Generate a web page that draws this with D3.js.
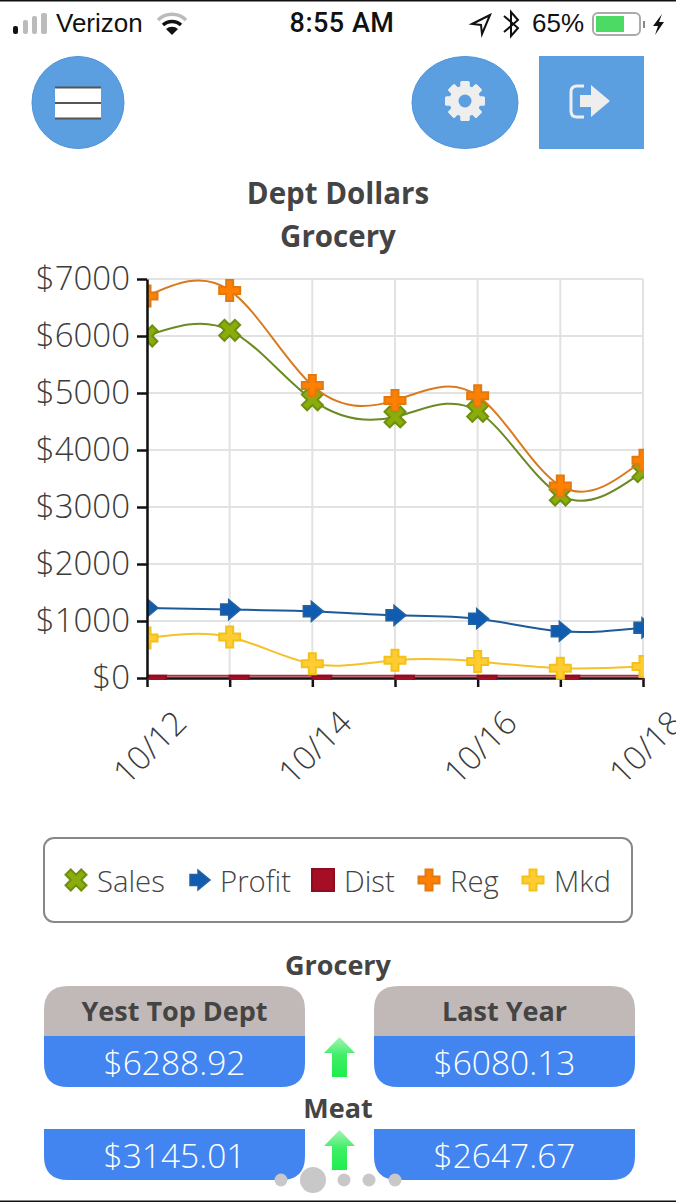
<!DOCTYPE html>
<html>
<head>
<meta charset="utf-8">
<script src="https://cdn.jsdelivr.net/npm/d3@7"></script>
<style>
  html, body { margin: 0; padding: 0; background: #fff; overflow: hidden; }
  svg { display: block; font-family: "Open Sans", sans-serif; }
  .status { font-family: "Liberation Sans", sans-serif; fill: #111; }
  .tick text { font-family: "Open Sans", sans-serif; font-weight: 300; font-size: 33px; fill: #3c3c3c; }
  .title { font-weight: 700; font-size: 27px; fill: #444; text-anchor: middle; }
  .chart-title { font-size: 29.5px; }
  .legend-label { font-weight: 300; font-size: 29.3px; fill: #444; }
  .value { font-weight: 300; font-size: 33.5px; fill: #fff; text-anchor: middle; }
</style>
</head>
<body>
<svg id="stage" width="676" height="1202"></svg>
<script>
var days = ['10/12', '10/13', '10/14', '10/15', '10/16', '10/17', '10/18'],
    labelledDays = ['10/12', '10/14', '10/16', '10/18'],
    yTicks = [0, 1000, 2000, 3000, 4000, 5000, 6000, 7000],
    sales = [6000, 6100, 4880, 4580, 4680, 3210, 3620],
    profit = [1230, 1200, 1170, 1100, 1040, 820, 880],
    dist = [40, 40, 40, 40, 40, 40, 40],
    reg = [6700, 6800, 5130, 4870, 4950, 3370, 3820],
    mkd = [700, 720, 250, 310, 290, 170, 200],
    seriesNames = ['Sales', 'Profit', 'Dist', 'Reg', 'Mkd'],
    seriesValues = [sales, profit, dist, reg, mkd],
    seriesLine = ['#6b8a23', '#1c5a9a', '#b03045', '#d97a20', '#f5c02a'],
    seriesFill = ['#8aad0b', '#0f5cb0', '#a50f25', '#ff8000', '#ffcc33'],
    seriesStroke = ['#6e8f10', '#25639f', '#8d0c20', '#e07a10', '#f2c21a'],
    legendX = [76, 199, 323, 429, 533],
    cardTitles = ['Yest Top Dept', 'Last Year'],
    groceryValues = ['$6288.92', '$6080.13'],
    meatValues = ['$3145.01', '$2647.67'],
    cardX = [44, 374],
    pageDots = [[281, 6.5], [313, 13], [344, 6.5], [369, 6.5], [395, 6.5]];

var svg = d3.select('#stage'),
    LEFT = 147,
    RIGHT = 643,
    TOP = 279,
    BOTTOM = 678,
    BLUE = '#5c9fe0';

var x = d3.scalePoint().domain(days).range([LEFT, RIGHT]),
    y = d3.scaleLinear().domain([0, 7000]).range([BOTTOM, TOP]);

// d3 has no arrow symbol so this one is custom
var arrowSymbol = {
  draw: function (ctx, size) {
    var k = Math.sqrt(size) / 20;
    ctx.moveTo(-9 * k, -5.5 * k);
    ctx.lineTo(-1 * k, -5.5 * k);
    ctx.lineTo(-1 * k, -10 * k);
    ctx.lineTo(11 * k, 0);
    ctx.lineTo(-1 * k, 10 * k);
    ctx.lineTo(-1 * k, 5.5 * k);
    ctx.lineTo(-9 * k, 5.5 * k);
    ctx.closePath();
  }
};

function drawMarker(sel, i) {
  if (i === 2) {
    return sel.append('rect').attr('width', 19).attr('height', 20);
  }
  var type = i === 1 ? arrowSymbol : d3.symbolCross,
      size = i === 1 ? 400 : i === 0 ? 275 : 245,
      path = d3.symbol().type(type).size(size)();
  var mark = sel.append('path').attr('d', path);
  if (i === 0) mark.attr('transform', 'rotate(45)');
  return mark;
}

/* ---------- status bar ---------- */
svg.append('rect').attr('width', 676).attr('height', 1.5).attr('fill', '#111');
svg.append('rect').attr('y', 1200.5).attr('width', 676).attr('height', 1.5).attr('fill', '#111');

var statusBar = svg.append('g').attr('class', 'status');
[[13, 5, 26, 34, '#111'], [23, 5, 20, 34, '#bbb'], [32, 5, 16, 34, '#bbb'], [41, 6, 13, 34, '#bbb']].forEach(function (b) {
  statusBar.append('rect').attr('x', b[0]).attr('y', b[2]).attr('width', b[1]).attr('height', b[3] - b[2]).attr('rx', 2).attr('fill', b[4]);
});
statusBar.append('text').attr('x', 56).attr('y', 32).attr('font-size', 26).text('Verizon');
statusBar.append('path').attr('d', 'M158 20 A20 20 0 0 1 186 20').attr('fill', 'none').attr('stroke', '#bbb').attr('stroke-width', 3.5);
statusBar.append('path').attr('d', 'M163 25 A13 13 0 0 1 181 25').attr('fill', 'none').attr('stroke', '#111').attr('stroke-width', 3.5);
statusBar.append('path').attr('d', 'M172 35 L166 29 A9 9 0 0 1 178 29 Z').attr('fill', '#111');
statusBar.append('text').attr('x', 342).attr('y', 32).attr('font-size', 27).attr('font-family', 'Roboto').attr('font-weight', 500).attr('letter-spacing', 0.5).attr('text-anchor', 'middle').text('8:55 AM');
statusBar.append('path').attr('d', 'M490 15 L472 24 L481 25 L482 34 Z').attr('fill', 'none').attr('stroke', '#111').attr('stroke-width', 2);
statusBar.append('path').attr('d', 'M504 16 L518 28 L511 36 L511 12 L518 20 L504 32').attr('fill', 'none').attr('stroke', '#111').attr('stroke-width', 2);
statusBar.append('text').attr('x', 532).attr('y', 32).attr('font-size', 26).text('65%');
statusBar.append('rect').attr('x', 593).attr('y', 13).attr('width', 47).attr('height', 22).attr('rx', 5).attr('fill', '#fff').attr('stroke', '#aaa').attr('stroke-width', 2);
statusBar.append('rect').attr('x', 596).attr('y', 16).attr('width', 28).attr('height', 16).attr('fill', '#4cd964');
statusBar.append('rect').attr('x', 643).attr('y', 21).attr('width', 2).attr('height', 7).attr('fill', '#888');
statusBar.append('path').attr('d', 'M662 14 L653 26 L658 26 L655 35 L664 22 L659 22 Z').attr('fill', '#111');

/* ---------- top buttons ---------- */
svg.append('circle').attr('cx', 78).attr('cy', 102.5).attr('r', 46).attr('fill', BLUE).attr('stroke', '#4f94dc');
svg.append('rect').attr('x', 55).attr('y', 87).attr('width', 46).attr('height', 32).attr('fill', '#fff');
[87.5, 103, 118.5].forEach(function (ly) {
  svg.append('line').attr('x1', 55).attr('x2', 101).attr('y1', ly).attr('y2', ly).attr('stroke', '#555').attr('stroke-width', 2);
});

svg.append('ellipse').attr('cx', 465).attr('cy', 102.5).attr('rx', 53).attr('ry', 46).attr('fill', BLUE).attr('stroke', '#4f94dc');
var gear = svg.append('g').attr('transform', 'translate(465,101)');
d3.range(8).forEach(function (i) {
  gear.append('rect').attr('x', -4.5).attr('y', -20).attr('width', 9).attr('height', 40).attr('rx', 1.5)
    .attr('fill', '#eee').attr('transform', 'rotate(' + i * 45 + ')');
});
gear.append('circle').attr('r', 11).attr('fill', 'none').attr('stroke', '#eee').attr('stroke-width', 9);
gear.append('circle').attr('r', 6.5).attr('fill', BLUE);

svg.append('rect').attr('x', 539).attr('y', 56).attr('width', 105).attr('height', 93).attr('fill', BLUE);
svg.append('path').attr('d', 'M584 86 H577 Q571 86 571 92 V111 Q571 117 577 117 H584').attr('fill', 'none').attr('stroke', '#eee').attr('stroke-width', 3);
svg.append('path').attr('d', 'M580 95 H591 V85 L610 101 L591 117 V107 H580 Z').attr('fill', '#eee');

/* ---------- chart ---------- */
svg.append('text').attr('class', 'title chart-title').attr('x', 338).attr('y', 204).text('Dept Dollars');
svg.append('text').attr('class', 'title chart-title').attr('x', 338).attr('y', 247).text('Grocery');

svg.append('defs').append('clipPath').attr('id', 'plot')
  .append('rect').attr('x', LEFT).attr('y', TOP - 12).attr('width', RIGHT - LEFT + 1).attr('height', BOTTOM - TOP + 14);

svg.append('g').selectAll('line').data(yTicks).join('line')
  .attr('x1', LEFT).attr('x2', RIGHT)
  .attr('y1', function (d) { return y(d); }).attr('y2', function (d) { return y(d); })
  .attr('stroke', '#e2e2e2').attr('stroke-width', 2);

svg.append('g').selectAll('line').data(days).join('line')
  .attr('x1', function (d) { return x(d); }).attr('x2', function (d) { return x(d); })
  .attr('y1', TOP).attr('y2', BOTTOM)
  .attr('stroke', '#e2e2e2').attr('stroke-width', 2);

// the bottom axis goes under the marks, the Dist squares sit on top of it
var xAxis = svg.append('g')
  .attr('transform', 'translate(0,' + BOTTOM + ')')
  .call(d3.axisBottom(x).tickSize(9).tickSizeOuter(0)
    .tickFormat(function (d) { return labelledDays.indexOf(d) >= 0 ? d : ''; }));
xAxis.selectAll('line, path').attr('stroke', '#111').attr('stroke-width', 2.5);
xAxis.selectAll('text')
  .attr('text-anchor', 'end')
  .attr('x', 0).attr('y', 0).attr('dy', 0)
  .attr('transform', 'translate(41,47) rotate(-45)');

var line = d3.line()
  .x(function (d, i) { return x(days[i]); })
  .y(function (d) { return y(d); })
  .curve(d3.curveNatural);

var plot = svg.append('g').attr('clip-path', 'url(#plot)');

seriesValues.forEach(function (values, i) {
  plot.append('path').attr('d', line(values))
    .attr('fill', 'none').attr('stroke', seriesLine[i]).attr('stroke-width', 2);

  plot.append('g').selectAll('g').data(values).join('g')
    .attr('transform', function (d, j) { return 'translate(' + [x(days[j]), y(d)] + ')'; })
    .each(function () {
      drawMarker(d3.select(this), i)
        .attr('fill', seriesFill[i]).attr('stroke', seriesStroke[i]).attr('stroke-width', i === 1 ? 1.5 : 2);
    });
});

var yAxis = svg.append('g')
  .attr('transform', 'translate(' + LEFT + ',0)')
  .call(d3.axisLeft(y).tickValues(yTicks).tickSize(10).tickPadding(7).tickSizeOuter(0)
    .tickFormat(function (d) { return '$' + d; }));
yAxis.selectAll('line, path').attr('stroke', '#111').attr('stroke-width', 2.5);

/* ---------- legend ---------- */
svg.append('rect').attr('x', 44).attr('y', 838).attr('width', 588).attr('height', 84).attr('rx', 10)
  .attr('fill', '#fff').attr('stroke', '#888').attr('stroke-width', 2);

var legend = svg.append('g').selectAll('g').data(seriesNames).join('g')
  .attr('transform', function (d, i) { return 'translate(' + legendX[i] + ',880)'; });

legend.each(function (d, i) {
  var mark = drawMarker(d3.select(this), i)
    .attr('fill', seriesFill[i]).attr('stroke', seriesStroke[i]).attr('stroke-width', i === 1 ? 1.5 : 2);
  if (i === 2) mark.attr('x', -11).attr('y', -11).attr('width', 22).attr('height', 22);
});
legend.append('text').attr('class', 'legend-label').attr('x', 21).attr('y', 12).text(function (d) { return d; });

/* ---------- summary cards ---------- */
var defs = svg.select('defs');
var grad = defs.append('linearGradient').attr('id', 'up').attr('x1', 0).attr('x2', 0).attr('y1', 0).attr('y2', 1);
grad.append('stop').attr('offset', '0').attr('stop-color', '#a5f5b5');
grad.append('stop').attr('offset', '0.45').attr('stop-color', '#40ee68');
grad.append('stop').attr('offset', '1').attr('stop-color', '#1fee4c');

function upArrow(cy) {
  svg.append('path')
    .attr('d', 'M339.5 ' + (cy - 20) + ' L355 ' + (cy - 4) + ' H347 V' + (cy + 20) + ' H332 V' + (cy - 4) + ' H324 Z')
    .attr('fill', 'url(#up)');
}

function card(cx, top, bottom, r, topRound, bottomRound) {
  var w = 261, p = d3.path();
  p.moveTo(cx + (topRound ? r : 0), top);
  p.lineTo(cx + w - (topRound ? r : 0), top);
  if (topRound) p.quadraticCurveTo(cx + w, top, cx + w, top + r);
  p.lineTo(cx + w, bottom - (bottomRound ? r : 0));
  if (bottomRound) p.quadraticCurveTo(cx + w, bottom, cx + w - r, bottom);
  p.lineTo(cx + (bottomRound ? r : 0), bottom);
  if (bottomRound) p.quadraticCurveTo(cx, bottom, cx, bottom - r);
  p.lineTo(cx, top + (topRound ? r : 0));
  if (topRound) p.quadraticCurveTo(cx, top, cx + r, top);
  p.closePath();
  return p.toString();
}

svg.append('text').attr('class', 'title').attr('x', 338).attr('y', 975).text('Grocery');
cardX.forEach(function (cx, i) {
  svg.append('path').attr('d', card(cx, 986, 1036, 24, true, false)).attr('fill', '#c1b9b7');
  svg.append('path').attr('d', card(cx, 1036, 1087, 24, false, true)).attr('fill', '#4285f0');
  svg.append('text').attr('class', 'title').attr('x', cx + 130.5).attr('y', 1021).text(cardTitles[i]);
  svg.append('text').attr('class', 'value').attr('x', cx + 130.5).attr('y', 1075).text(groceryValues[i]);
});
upArrow(1057);

svg.append('text').attr('class', 'title').attr('x', 338).attr('y', 1118).text('Meat');
cardX.forEach(function (cx, i) {
  svg.append('path').attr('d', card(cx, 1129, 1180, 24, false, true)).attr('fill', '#4285f0');
  svg.append('text').attr('class', 'value').attr('x', cx + 130.5).attr('y', 1168).text(meatValues[i]);
});
upArrow(1150);

svg.append('g').selectAll('circle').data(pageDots).join('circle')
  .attr('cx', function (d) { return d[0]; })
  .attr('cy', 1180)
  .attr('r', function (d) { return d[1]; })
  .attr('fill', '#c8c8c8');
</script>
</body>
</html>
